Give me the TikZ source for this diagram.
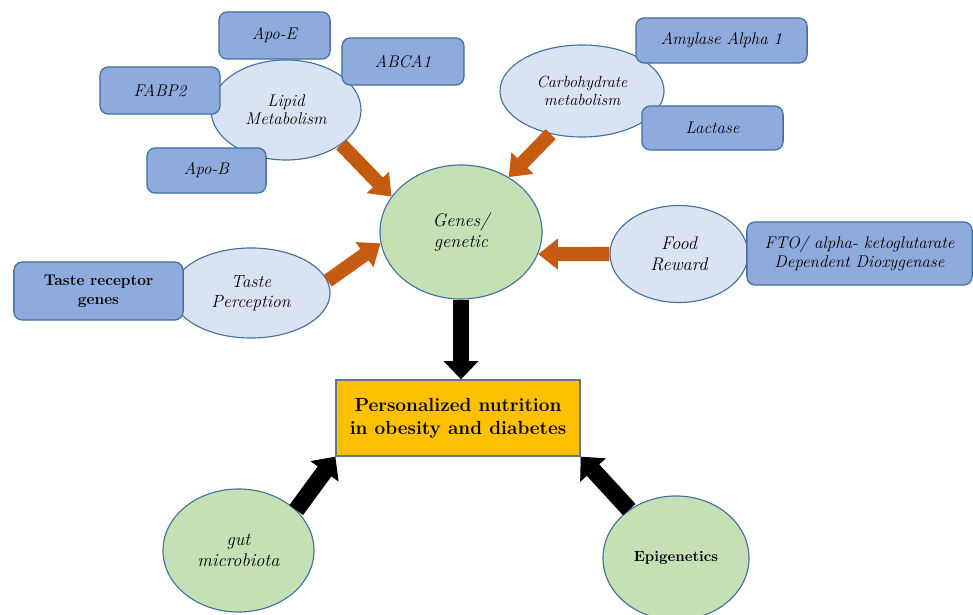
\documentclass[tikz,border=0pt]{standalone}
\usetikzlibrary{arrows.meta, shapes.geometric, positioning}
\definecolor{geneBlue}{HTML}{8FAADC}
\definecolor{edgeBlue}{HTML}{41719C}
\definecolor{paleBlue}{HTML}{DAE3F3}
\definecolor{paleGreen}{HTML}{C5E0B4}
\definecolor{feedOrange}{HTML}{C55A11}
\definecolor{goalGold}{HTML}{FFC000}

\begin{document}
\begin{tikzpicture}[x=0.025cm, y=-0.025cm,
  gene/.style={draw=edgeBlue, fill=geneBlue, rounded corners=6pt, line width=0.9pt,
               align=center, inner sep=2pt, font=\fontsize{12}{13.5}\selectfont\itshape},
  topic/.style={ellipse, draw=edgeBlue, fill=paleBlue, line width=0.8pt, align=center,
                inner sep=0pt, font=\fontsize{12}{13}\selectfont\itshape},
  factor/.style={topic, fill=paleGreen},
  feed/.style={-{Triangle[length=14pt, width=21pt]}, line width=10pt, feedOrange},
  lead/.style={-{Triangle[length=13pt, width=24pt]}, line width=12pt, black}]
  \useasboundingbox (0,0) rectangle (973,615);

  % pathways round the central node
  \node[topic, minimum width=3.75cm, minimum height=2.5cm] (lipid) at (286,110)
    {Lipid\\Metabolism};
  \node[topic, minimum width=4.1cm, minimum height=2.3cm,
        font=\fontsize{11.5}{13}\selectfont\itshape] (carb) at (582,91)
    {Carbohydrate\\metabolism};
  \node[topic, minimum width=3.95cm, minimum height=2.25cm,
        font=\fontsize{12.5}{14}\selectfont\itshape] (taste) at (251,293)
    {Taste\\Perception};
  \node[topic, minimum width=3.45cm, minimum height=2.425cm,
        font=\fontsize{13}{14.5}\selectfont\itshape] (food) at (679,254)
    {Food\\Reward};
  \node[factor, minimum width=4.05cm, minimum height=3.35cm,
        font=\fontsize{13}{14.5}\selectfont\itshape] (genes) at (461,232)
    {Genes/\\genetic};

  % single genes
  \node[gene, minimum width=2.78cm, minimum height=1.18cm] (apoe) at (274.5,35.5) {Apo-E};
  \node[gene, minimum width=3.05cm, minimum height=1.18cm] (abca) at (403,61.5) {ABCA1};
  \node[gene, minimum width=3cm, minimum height=1.18cm] (fabp) at (160,90.5) {FABP2};
  \node[gene, minimum width=2.98cm, minimum height=1.13cm] (apob) at (206.5,170.5) {Apo-B};
  \node[gene, minimum width=4.28cm, minimum height=1.13cm] (amylase) at (721.5,40.5)
    {Amylase Alpha 1};
  \node[gene, minimum width=3.53cm, minimum height=1.1cm] (lactase) at (712.5,128) {Lactase};
  \node[gene, minimum width=5.63cm, minimum height=1.58cm] (fto) at (859.5,253.5)
    {FTO/ alpha- ketoglutarate\\Dependent Dioxygenase};
  \node[gene, minimum width=4.23cm, minimum height=1.45cm,
        font=\fontsize{11}{13.5}\selectfont\bfseries] (receptor) at (98.5,291)
    {Taste receptor\\genes};

  % outcome and other factors
  \node[draw=edgeBlue!50!gray, fill=goalGold, line width=0.9pt, align=center,
        minimum width=6.1cm, minimum height=1.9cm,
        font=\fontsize{13.5}{16.5}\selectfont\bfseries] (goal) at (458,418)
    {Personalized nutrition\\in obesity and diabetes};
  \node[factor, minimum width=3.775cm, minimum height=3.075cm,
        font=\fontsize{13}{14.5}\selectfont\itshape] (gut) at (238.5,550.5)
    {gut\\microbiota};
  \node[factor, minimum width=3.65cm, minimum height=3.1cm,
        font=\fontsize{10.5}{12}\selectfont\bfseries] (epi) at (676,558) {Epigenetics};

  \draw[feed] (lipid.-32) -- (genes.153);
  \draw[feed] (carb.234) -- (genes.49);
  \draw[feed] (taste.9) -- (genes.188);
  \draw[feed] (food.west) -- (genes.-16);
  \draw[lead] (genes.south) -- (genes.south |- goal.north);
  \draw[lead] (gut.35) -- (goal.south west);
  \draw[lead] (epi.134) -- (goal.south east);
\end{tikzpicture}
\end{document}
